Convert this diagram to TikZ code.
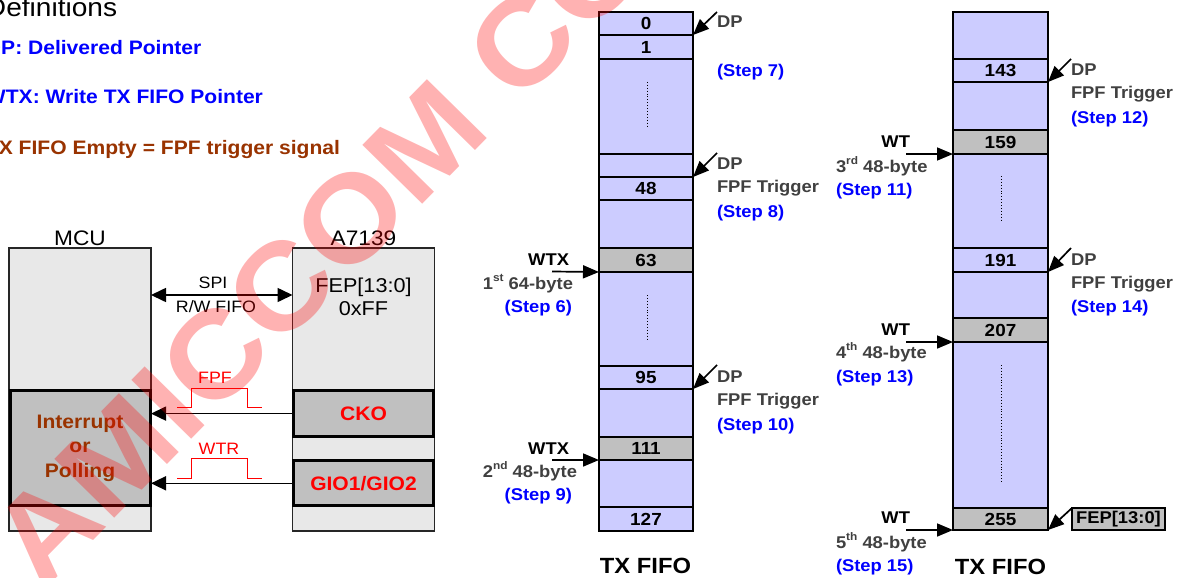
\documentclass[tikz,border=0pt]{standalone}
\usepackage{fontspec}
\newfontfamily\ar[FakeStretch=1.08]{Liberation Sans}
\usetikzlibrary{arrows.meta}
\definecolor{lav}{RGB}{204,204,255}
\definecolor{cgray}{RGB}{192,192,192}
\definecolor{bgray}{RGB}{232,232,232}
\definecolor{brn}{RGB}{153,51,0}
\definecolor{dtxt}{RGB}{64,64,64}
\definecolor{stepblue}{RGB}{0,0,255}
\newcommand\fsz[1]{\fontsize{#1}{#1}\selectfont}
\newcommand\sups[1]{\raisebox{0.42em}{\fontsize{11}{11}\selectfont #1}}
\begin{document}
\begin{tikzpicture}[x=1pt,y=-1pt,
  every node/.style={inner sep=0pt,outer sep=0pt},
  cellm/.style={draw=black, line width=1.6pt, fill=lav, minimum width=94pt, anchor=north west, font=\ar\bfseries\fsz{17.5}, text=black},
  cellr/.style={cellm, minimum width=95pt},
  gcell/.style={fill=cgray},
  lbl/.style={font=\ar\bfseries\fsz{17}},
  lw/.style={lbl, anchor=base west},
  le/.style={lbl, anchor=base east},
  dark/.style={text=dtxt},
  stp/.style={text=stepblue},
  ptr/.style={-{Triangle[length=16pt,width=13pt]}, line width=1.7pt},
  chip/.style={draw=black!85, line width=1.4pt, fill=bgray, minimum width=142pt, minimum height=283pt},
  pin/.style={draw=black, line width=3pt, fill=cgray, minimum width=140pt, font=\ar\bfseries\fsz{19.5}},
  reg/.style={font=\ar\fsz{20}, anchor=base},
  sig/.style={font=\ar\fsz{16.5}, anchor=base},
  deff/.style={font=\ar\bfseries\fsz{19.5}, anchor=base west},
  pulse/.style={red, line width=1.3pt},
  larrow/.style={-{Triangle[length=15pt,width=14pt]}, line width=1.6pt},
  dots/.style={dotted, line width=0.9pt}
]
\clip (0,0) rectangle (1184,578);
\fill[white] (0,0) rectangle (1184,578);

% ---------- definitions ----------
\node[font=\ar\fsz{26}, anchor=base west] (defs) at (-14,17) {Definitions};
\node[deff, text=stepblue] (d1) at (-14,55) {DP: Delivered Pointer};
\node[deff, text=stepblue] (d2) at (-14,103) {WTX: Write TX FIFO Pointer};
\node[deff, text=brn] (d3) at (-14,154) {TX FIFO Empty = FPF trigger signal};

% ---------- MCU / A7139 ----------
\node[chip] (mcu) at (80,389.5) {};
\node[chip] (a7) at (363.5,389.5) {};
\node[font=\ar\fsz{21}, anchor=base] (lmcu) at (80,245) {MCU};
\node[font=\ar\fsz{21}, anchor=base] (la7) at (363.5,245) {A7139};
\node[reg] (fep) at (363.5,292) {FEP[13:0]};
\node[reg] (ff) at (363.5,315) {0xFF};
\node[pin, minimum height=115pt, text=brn, align=center, font=\ar\bfseries\fontsize{19.5}{24.5}\selectfont] (intr) at (80,448) {Interrupt\\or\\Polling};
\node[pin, minimum height=45.7pt, text=red] (cko) at (363.5,413.6) {CKO};
\node[pin, minimum height=45pt, text=red] (gio) at (363.5,483.3) {GIO1/GIO2};

\coordinate (spiy) at (0,295);
\draw[{Triangle[length=15pt,width=14pt]}-{Triangle[length=15pt,width=14pt]}, line width=1.6pt] (mcu.east |- spiy) -- (a7.west |- spiy);
\node[sig] (spi) at (213,288) {SPI};
\node[sig] (rw) at (216,312) {R/W FIFO};

\draw[larrow] (cko.west) -- (cko.west -| mcu.east);
\draw[larrow] (gio.west) -- (gio.west -| mcu.east);
\draw[pulse] (177,407.3) -- (191.7,407.3) -- (191.7,388.3) -- (247.3,388.3) -- (247.3,407.3) -- (261.7,407.3);
\draw[pulse] (177,478.3) -- (191.7,478.3) -- (191.7,458.3) -- (247.3,458.3) -- (247.3,478.3) -- (261.7,478.3);
\node[sig, text=red] (fpf) at (215,383) {FPF};
\node[sig, text=red] (wtr) at (219,454) {WTR};

% ---------- middle TX FIFO ----------
\node[cellm, minimum height=23pt] (m0) at (599,12) {0};
\node[cellm, minimum height=24pt] (m1) at (599,35) {1};
\node[cellm, minimum height=95pt] (mg1) at (599,59) {};
\node[cellm, minimum height=23pt] (mg2) at (599,154) {};
\node[cellm, minimum height=23pt] (m48) at (599,177) {48};
\node[cellm, minimum height=48pt] (mg3) at (599,200) {};
\node[cellm, gcell, minimum height=24pt] (m63) at (599,248) {63};
\node[cellm, minimum height=94pt] (mg4) at (599,272) {};
\node[cellm, minimum height=23pt] (m95) at (599,366) {95};
\node[cellm, minimum height=48pt] (mg5) at (599,389) {};
\node[cellm, gcell, minimum height=23pt] (m111) at (599,437) {111};
\node[cellm, minimum height=47pt] (mg6) at (599,460) {};
\node[cellm, minimum height=24pt] (m127) at (599,507) {127};
\draw[dots] (647,82) -- (647,127);
\draw[dots] (647,295) -- (647,340);
\node[font=\ar\bfseries\fsz{22}, anchor=base] (tx1) at (645.5,573) {TX FIFO};

\coordinate (p1) at (717,12);
\coordinate (p2) at (717,153);
\coordinate (p3) at (717,365);
\draw[ptr] (p1) -- (m0.south east);
\draw[ptr] (p2) -- (m48.north east);
\draw[ptr] (p3) -- (m95.south east);
\node[lw, dark] at (717,28) {DP};
\node[lw, stp] at (717,77) {(Step 7)};
\node[lw, dark] at (717,169) {DP};
\node[lw, dark] at (717,192) {FPF Trigger};
\node[lw, stp] at (717,217) {(Step 8)};
\node[lw, dark] at (717,382) {DP};
\node[lw, dark] at (717,405) {FPF Trigger};
\node[lw, stp] at (717,430) {(Step 10)};

\coordinate (w1) at (552,271.5);
\coordinate (w2) at (552,460);
\draw[ptr] (w1) -- (m63.south west);
\draw[ptr] (w2) -- (m111.south west);
\node[le] at (569,265) {WTX};
\node[le, dark] at (573,289) {1\sups{st} 64-byte};
\node[le, stp] at (572,312) {(Step 6)};
\node[le] at (569,454) {WTX};
\node[le, dark] at (577,477) {2\sups{nd} 48-byte};
\node[le, stp] at (572,500) {(Step 9)};

% ---------- right TX FIFO ----------
\node[cellr, minimum height=47pt] (r1) at (953,12) {};
\node[cellr, minimum height=23pt] (r143) at (953,59) {143};
\node[cellr, minimum height=48pt] (r3) at (953,82) {};
\node[cellr, gcell, minimum height=24pt] (r159) at (953,130) {159};
\node[cellr, minimum height=94pt] (r5) at (953,154) {};
\node[cellr, minimum height=24pt] (r191) at (953,248) {191};
\node[cellr, minimum height=46pt] (r7) at (953,272) {};
\node[cellr, gcell, minimum height=24pt] (r207) at (953,318) {207};
\node[cellr, minimum height=166pt] (r9) at (953,342) {};
\node[cellr, gcell, minimum height=22pt] (r255) at (953,508) {255};
\draw[dots] (1001,176) -- (1001,222);
\draw[dots] (1001,365) -- (1001,483);
\node[font=\ar\bfseries\fsz{22}, anchor=base] (tx2) at (1000.5,574) {TX FIFO};

\coordinate (q1) at (1071,59);
\coordinate (q2) at (1071,248);
\draw[ptr] (q1) -- (r143.south east);
\draw[ptr] (q2) -- (r191.south east);
\node[lw, dark] at (1071,76) {DP};
\node[lw, dark] at (1071,99) {FPF Trigger};
\node[lw, stp] at (1071,123) {(Step 12)};
\node[lw, dark] at (1071,265) {DP};
\node[lw, dark] at (1071,288) {FPF Trigger};
\node[lw, stp] at (1071,312) {(Step 14)};

\node[draw=black, line width=1.6pt, fill=cgray, minimum width=93pt, minimum height=22pt, anchor=north west, lbl, text=black] (feb) at (1072,508) {FEP[13:0]};
\draw[ptr] (feb.north west) -- (r255.south east);

\coordinate (v1) at (906,154);
\coordinate (v2) at (906,342);
\coordinate (v3) at (906,530);
\draw[ptr] (v1) -- (r159.south west);
\draw[ptr] (v2) -- (r207.south west);
\draw[ptr] (v3) -- (r255.south west);
\node[le] at (910,147) {WT};
\node[lw, dark] at (836,172) {3\sups{rd} 48-byte};
\node[lw, stp] at (836,195) {(Step 11)};
\node[le] at (910,335) {WT};
\node[lw, dark] at (836,358) {4\sups{th} 48-byte};
\node[lw, stp] at (836,382) {(Step 13)};
\node[le] at (910,523) {WT};
\node[lw, dark] at (836,548) {5\sups{th} 48-byte};
\node[lw, stp] at (836,571) {(Step 15)};

% ---------- watermark ----------
\node[rotate=45.5, anchor=base west, font=\ar\bfseries\fsz{122}, text=red, opacity=0.3] (wm) at (42,592) {AMICCOM CONFIDENTIAL};
\end{tikzpicture}
\end{document}
